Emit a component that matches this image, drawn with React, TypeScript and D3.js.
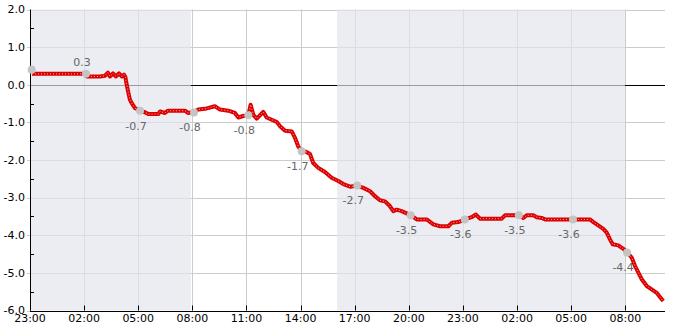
import React from "react";
import * as d3 from "d3";

// hours since 23:00 (day 1)
const hours = [0.11, 3.0, 3.16, 3.88, 4.16, 4.32, 4.43, 4.6, 4.77, 4.93, 5.1, 5.21, 5.29, 5.36, 5.45, 5.54, 5.64, 5.82, 6.1, 6.37, 6.56, 7.11, 7.21, 7.48, 7.65, 8.59, 8.76, 9.09, 9.33, 9.7, 10.25, 10.53, 10.99, 11.36, 11.55, 11.81, 12.1, 12.23, 12.38, 12.57, 12.93, 13.12, 13.4, 13.68, 13.86, 14.14, 14.51, 14.69, 14.87, 15.06, 15.3, 15.52, 15.7, 15.98, 16.35, 16.72, 17.09, 17.37, 17.74, 18.14, 18.48, 18.85, 19.12, 19.4, 19.68, 19.96, 20.14, 20.33, 20.6, 21.12, 21.44, 21.99, 22.36, 22.73, 23.19, 23.38, 23.74, 24.11, 24.48, 24.72, 24.94, 26.15, 26.33, 26.88, 27.12, 27.35, 27.53, 27.9, 28.09, 28.36, 28.55, 30.12, 31.04, 31.23, 31.5, 31.78, 31.97, 32.15, 32.3, 32.61, 32.89, 33.12, 33.36, 33.54, 33.73, 33.91, 34.19, 34.46, 34.74, 34.92, 35.1];
const values = [0.29, 0.29, 0.22, 0.22, 0.24, 0.32, 0.22, 0.3, 0.22, 0.3, 0.22, 0.27, 0.2, 0.0, -0.21, -0.4, -0.49, -0.62, -0.69, -0.73, -0.78, -0.78, -0.71, -0.75, -0.69, -0.69, -0.75, -0.72, -0.66, -0.64, -0.57, -0.66, -0.69, -0.75, -0.87, -0.83, -0.81, -0.53, -0.8, -0.9, -0.72, -0.87, -0.93, -0.99, -1.1, -1.22, -1.24, -1.41, -1.64, -1.77, -1.78, -1.84, -2.08, -2.21, -2.32, -2.47, -2.56, -2.64, -2.71, -2.68, -2.74, -2.83, -2.96, -3.07, -3.1, -3.23, -3.36, -3.32, -3.36, -3.47, -3.58, -3.58, -3.71, -3.76, -3.76, -3.67, -3.65, -3.58, -3.52, -3.45, -3.56, -3.56, -3.47, -3.47, -3.47, -3.54, -3.47, -3.47, -3.52, -3.54, -3.58, -3.58, -3.58, -3.65, -3.74, -3.83, -3.93, -4.11, -4.24, -4.27, -4.36, -4.46, -4.6, -4.82, -5.0, -5.17, -5.35, -5.44, -5.53, -5.64, -5.75];

const markerHours = [0.09, 3.1, 6.1, 9.09, 12.1, 15.06, 18.14, 21.1, 24.1, 27.1, 30.1, 33.1];
const markerValues = [0.4, 0.29, -0.69, -0.74, -0.81, -1.77, -2.68, -3.47, -3.58, -3.47, -3.58, -4.46];
const markerLabels = ["", "0.3", "-0.7", "-0.8", "-0.8", "-1.7", "-2.7", "-3.5", "-3.6", "-3.5", "-3.6", "-4.4"];
const markerAbove = [false, true, false, false, false, false, false, false, false, false, false, false];

const shadeStart = [0, 17.02];
const shadeEnd = [8.92, 32.98];

const xTickHours = [0, 3, 6, 9, 12, 15, 18, 21, 24, 27, 30, 33];
const xTickLabels = ["23:00", "02:00", "05:00", "08:00", "11:00", "14:00", "17:00", "20:00", "23:00", "02:00", "05:00", "08:00"];
const yTicks = [2, 1, 0, -1, -2, -3, -4, -5, -6];
const yMinorTicks = [1.5, 0.5, -0.5, -1.5, -2.5, -3.5, -4.5, -5.5];

const W = 685, H = 330;
const L = 30, R = 665, T = 9.5, B = 310.5;
const FONT = "DejaVu Sans, sans-serif";

export default function App() {
  const x = d3.scaleLinear().domain([0, 35.2]).range([L, R]);
  const y = d3.scaleLinear().domain([-6, 2]).range([B, T]);
  const px = (v: number) => Math.round(v) + 0.5;
  const line = d3.line<number>().x((_, i) => x(hours[i])).y((d) => y(d));
  const path = line(values) || "";

  return (
    <svg width={W} height={H} style={{ position: "absolute", left: 0, top: 0 }}>
      <rect x={0} y={0} width={W} height={H} fill="#fff" />
      {/* grid */}
      {yTicks.map((t) => (
        <line key={"gy" + t} x1={L - 3} x2={R} y1={px(y(t))} y2={px(y(t))} stroke="#cccccc" strokeWidth={1} />
      ))}
      {xTickHours.map((h, i) => (
        <line key={"gx" + i} x1={px(x(h))} x2={px(x(h))} y1={T} y2={B} stroke="#cccccc" strokeWidth={1} />
      ))}
      {/* zero line */}
      <line x1={L} x2={R} y1={px(y(0))} y2={px(y(0))} stroke="#000" strokeWidth={1} />
      {/* night shading */}
      {shadeStart.map((s, i) => (
        <rect key={"sh" + i} x={x(s)} y={T} width={x(shadeEnd[i]) - x(s)} height={B - T} fill="rgb(226,228,236)" opacity={0.68} />
      ))}
      {/* axes */}
      <line x1={L + 0.5} x2={L + 0.5} y1={T} y2={B} stroke="#000" strokeWidth={1} />
      <line x1={L} x2={R} y1={px(B)} y2={px(B)} stroke="#000" strokeWidth={1} />
      {yMinorTicks.map((t) => (
        <line key={"my" + t} x1={L} x2={L + 4} y1={px(y(t))} y2={px(y(t))} stroke="#000" strokeWidth={1} />
      ))}
      {xTickHours.map((h, i) => (
        <line key={"tx" + i} x1={px(x(h))} x2={px(x(h))} y1={B - 5} y2={B} stroke="#000" strokeWidth={1} />
      ))}
      {yTicks.map((t) => (
        <text key={"ly" + t} x={25} y={y(t)} dy="0.35em" textAnchor="end" fontFamily={FONT} fontSize={11} fill="#000">
          {t.toFixed(1)}
        </text>
      ))}
      {xTickHours.map((h, i) => (
        <text key={"lx" + i} x={x(h)} y={322} textAnchor="middle" fontFamily={FONT} fontSize={11} fill="#000">
          {xTickLabels[i]}
        </text>
      ))}
      {/* series */}
      <path d={path} fill="none" stroke="#dd0000" strokeWidth={4} strokeLinejoin="round" />
      <path d={path} fill="none" stroke="#ffffff" strokeWidth={1} strokeDasharray="1 2" opacity={0.7} />
      {/* markers */}
      {markerHours.map((h, i) => (
        <circle key={"m" + i} cx={x(h)} cy={y(markerValues[i])} r={4} fill="#c4c4c4" />
      ))}
      {markerHours.map((h, i) =>
        markerLabels[i] ? (
          <text
            key={"ml" + i}
            x={x(h) - 4}
            y={y(markerValues[i]) + (markerAbove[i] ? -12 : 15)}
            dy="0.35em"
            textAnchor="middle"
            fontFamily={FONT}
            fontSize={11}
            fill="#666"
          >
            {markerLabels[i]}
          </text>
        ) : null
      )}
    </svg>
  );
}
